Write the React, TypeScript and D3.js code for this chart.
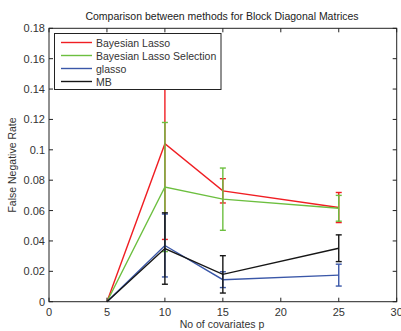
import React from "react";
import * as d3 from "d3";

const xTicks = [0, 5, 10, 15, 20, 25, 30];
const yTicks = [0, 0.02, 0.04, 0.06, 0.08, 0.1, 0.12, 0.14, 0.16, 0.18];
const pValues = [5, 10, 15, 25];

const seriesNames = ["Bayesian Lasso", "Bayesian Lasso Selection", "glasso", "MB"];
const seriesColors = ["#f01e23", "#6cbf3f", "#3a57a8", "#161616"];
const redMean = [0, 0.104, 0.073, 0.062];
const redErr = [0, 0.063, 0.008, 0.0099];
const greenMean = [0, 0.0755, 0.0675, 0.0615];
const greenErr = [0, 0.0425, 0.0205, 0.0085];
const blueMean = [0, 0.037, 0.0145, 0.0175];
const blueErr = [0, 0.0207, 0.0052, 0.0072];
const blackMean = [0, 0.035, 0.018, 0.0352];
const blackErr = [0, 0.0235, 0.0123, 0.0088];

const means = [redMean, greenMean, blueMean, blackMean];
const errs = [redErr, greenErr, blueErr, blackErr];
const drawOrder = [0, 1, 2, 3];

export default function App() {
  const W = 401, H = 331;
  const left = 49, right = 396.7, top = 28.3, bottom = 301.7;
  const x = d3.scaleLinear().domain([0, 30]).range([left, right]);
  const y = d3.scaleLinear().domain([0, 0.18]).range([bottom, top]);
  const line = d3.line<number>().x((_, i) => x(pValues[i])).y((v) => y(v));
  const font = "'Liberation Sans', Arial, Helvetica, sans-serif";
  const tickLen = 4;
  const cap = 3;

  return (
    <svg width={W} height={H} style={{ position: "absolute", left: 0, top: 0 }}>
      <rect x={0} y={0} width={W} height={H} fill="#fff" />
      <text x={222} y={19.5} fontSize={10.5} fontFamily={font} textAnchor="middle" fill="#222">
        Comparison between methods for Block Diagonal Matrices
      </text>
      {drawOrder.map((s) => (
        <g key={s} stroke={seriesColors[s]} fill="none" strokeWidth={1.4}>
          <path d={line(means[s]) || ""} />
          {pValues.map((p, i) =>
            errs[s][i] > 0 ? (
              <g key={i}>
                <line x1={x(p)} x2={x(p)} y1={y(means[s][i] - errs[s][i])} y2={y(means[s][i] + errs[s][i])} />
                <line x1={x(p) - cap} x2={x(p) + cap} y1={y(means[s][i] - errs[s][i])} y2={y(means[s][i] - errs[s][i])} />
                <line x1={x(p) - cap} x2={x(p) + cap} y1={y(means[s][i] + errs[s][i])} y2={y(means[s][i] + errs[s][i])} />
              </g>
            ) : null
          )}
        </g>
      ))}
      <rect x={left} y={top} width={right - left} height={bottom - top} fill="none" stroke="#222" strokeWidth={1} />
      {xTicks.map((t) => (
        <g key={t}>
          <line x1={x(t)} x2={x(t)} y1={bottom} y2={bottom - tickLen} stroke="#222" />
          <line x1={x(t)} x2={x(t)} y1={top} y2={top + tickLen} stroke="#222" />
          <text x={x(t)} y={bottom + 14} fontSize={11} fontFamily={font} textAnchor="middle" fill="#333">
            {t}
          </text>
        </g>
      ))}
      {yTicks.map((t) => (
        <g key={t}>
          <line x1={left} x2={left + tickLen} y1={y(t)} y2={y(t)} stroke="#222" />
          <line x1={right} x2={right - tickLen} y1={y(t)} y2={y(t)} stroke="#222" />
          <text x={left - 4} y={y(t) + 4} fontSize={11} fontFamily={font} textAnchor="end" fill="#333">
            {String(t)}
          </text>
        </g>
      ))}
      <text x={222} y={327.5} fontSize={10.5} fontFamily={font} textAnchor="middle" fill="#333">
        No of covariates p
      </text>
      <text
        transform={`translate(15.5,${(top + bottom) / 2}) rotate(-90)`}
        fontSize={10.5}
        fontFamily={font}
        textAnchor="middle"
        fill="#333"
      >
        False Negative Rate
      </text>
      <g>
        <rect x={54.5} y={33.5} width={166.5} height={56} fill="#fff" stroke="#222" strokeWidth={1} />
        {seriesNames.map((n, i) => (
          <g key={n}>
            <line x1={61} x2={92} y1={42.5 + i * 13} y2={42.5 + i * 13} stroke={seriesColors[i]} strokeWidth={1.4} />
            <text x={96} y={46.5 + i * 13} fontSize={10.5} fontFamily={font} fill="#333">
              {n}
            </text>
          </g>
        ))}
      </g>
    </svg>
  );
}
